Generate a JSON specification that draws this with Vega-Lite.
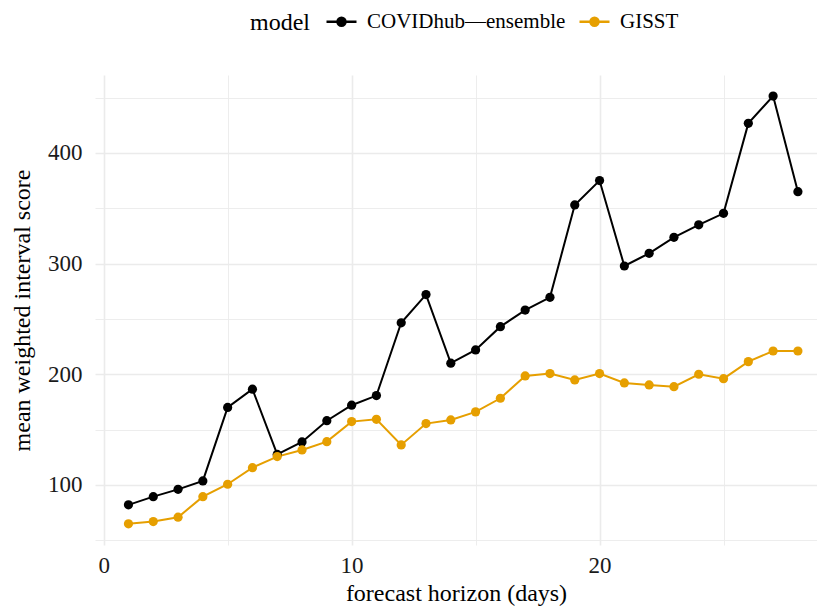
{
  "$schema": "https://vega.github.io/schema/vega-lite/v6.json",
  "autosize": {"type": "none"},
  "width": 722,
  "height": 470,
  "padding": {"left": 95, "top": 75, "right": 0, "bottom": 66},
  "background": "white",
  "config": {
    "view": {"stroke": null},
    "font": "Liberation Serif",
    "axis": {"labelFont": "Liberation Serif", "titleFont": "Liberation Serif", "labelFontSize": 23, "titleFontSize": 24, "labelColor": "#1a1a1a", "titleColor": "#000000", "titleFontWeight": "normal", "domain": false, "ticks": false, "gridColor": "#EBEBEB"},
    "legend": {"labelFont": "Liberation Serif", "titleFont": "Liberation Serif", "labelFontSize": 21, "titleFontSize": 24, "titleFontWeight": "normal", "labelColor": "#000000", "titleColor": "#000000", "labelLimit": 0}
  },
  "data": {"values": [
    {"h": 1, "model": "COVIDhub—ensemble", "score": 82},
    {"h": 2, "model": "COVIDhub—ensemble", "score": 89.4},
    {"h": 3, "model": "COVIDhub—ensemble", "score": 96},
    {"h": 4, "model": "COVIDhub—ensemble", "score": 103.6},
    {"h": 5, "model": "COVIDhub—ensemble", "score": 170},
    {"h": 6, "model": "COVIDhub—ensemble", "score": 186.5},
    {"h": 7, "model": "COVIDhub—ensemble", "score": 127.5},
    {"h": 8, "model": "COVIDhub—ensemble", "score": 138.8},
    {"h": 9, "model": "COVIDhub—ensemble", "score": 158},
    {"h": 10, "model": "COVIDhub—ensemble", "score": 172},
    {"h": 11, "model": "COVIDhub—ensemble", "score": 180.7},
    {"h": 12, "model": "COVIDhub—ensemble", "score": 246.5},
    {"h": 13, "model": "COVIDhub—ensemble", "score": 272},
    {"h": 14, "model": "COVIDhub—ensemble", "score": 210},
    {"h": 15, "model": "COVIDhub—ensemble", "score": 222},
    {"h": 16, "model": "COVIDhub—ensemble", "score": 243},
    {"h": 17, "model": "COVIDhub—ensemble", "score": 258},
    {"h": 18, "model": "COVIDhub—ensemble", "score": 269.5},
    {"h": 19, "model": "COVIDhub—ensemble", "score": 353},
    {"h": 20, "model": "COVIDhub—ensemble", "score": 375},
    {"h": 21, "model": "COVIDhub—ensemble", "score": 297.8},
    {"h": 22, "model": "COVIDhub—ensemble", "score": 309.3},
    {"h": 23, "model": "COVIDhub—ensemble", "score": 323.7},
    {"h": 24, "model": "COVIDhub—ensemble", "score": 335},
    {"h": 25, "model": "COVIDhub—ensemble", "score": 345.4},
    {"h": 26, "model": "COVIDhub—ensemble", "score": 426.7},
    {"h": 27, "model": "COVIDhub—ensemble", "score": 451.4},
    {"h": 28, "model": "COVIDhub—ensemble", "score": 365},
    {"h": 1, "model": "GISST", "score": 64.8},
    {"h": 2, "model": "GISST", "score": 66.9},
    {"h": 3, "model": "GISST", "score": 70.8},
    {"h": 4, "model": "GISST", "score": 89.4},
    {"h": 5, "model": "GISST", "score": 100.6},
    {"h": 6, "model": "GISST", "score": 115.6},
    {"h": 7, "model": "GISST", "score": 125.6},
    {"h": 8, "model": "GISST", "score": 131.6},
    {"h": 9, "model": "GISST", "score": 139.1},
    {"h": 10, "model": "GISST", "score": 157.2},
    {"h": 11, "model": "GISST", "score": 159.3},
    {"h": 12, "model": "GISST", "score": 136.1},
    {"h": 13, "model": "GISST", "score": 155.4},
    {"h": 14, "model": "GISST", "score": 158.7},
    {"h": 15, "model": "GISST", "score": 166},
    {"h": 16, "model": "GISST", "score": 178.3},
    {"h": 17, "model": "GISST", "score": 198.5},
    {"h": 18, "model": "GISST", "score": 200.6},
    {"h": 19, "model": "GISST", "score": 194.9},
    {"h": 20, "model": "GISST", "score": 200.6},
    {"h": 21, "model": "GISST", "score": 192.1},
    {"h": 22, "model": "GISST", "score": 190.3},
    {"h": 23, "model": "GISST", "score": 188.8},
    {"h": 24, "model": "GISST", "score": 200},
    {"h": 25, "model": "GISST", "score": 196},
    {"h": 26, "model": "GISST", "score": 211.4},
    {"h": 27, "model": "GISST", "score": 221},
    {"h": 28, "model": "GISST", "score": 221}
  ]},
  "encoding": {
    "x": {"field": "h", "type": "quantitative", "title": "forecast horizon (days)",
      "scale": {"domain": [-0.35, 28.77], "nice": false, "zero": false},
      "axis": {"values": [0, 5, 10, 15, 20, 25], "labelExpr": "datum.value % 10 === 0 ? datum.label : ''", "labelPadding": 9, "titlePadding": 4,
        "gridWidth": {"condition": {"test": "datum.value % 10 === 0", "value": 1.6}, "value": 0.9}}},
    "y": {"field": "score", "type": "quantitative", "title": "mean weighted interval score",
      "scale": {"domain": [45.7, 470.4], "nice": false, "zero": false},
      "axis": {"values": [50, 100, 150, 200, 250, 300, 350, 400, 450], "labelExpr": "datum.value % 100 === 0 ? datum.label : ''", "labelPadding": 13, "titlePadding": 13,
        "gridWidth": {"condition": {"test": "datum.value % 100 === 0", "value": 1.6}, "value": 0.9}}},
    "color": {"field": "model", "type": "nominal",
      "scale": {"domain": ["COVIDhub—ensemble", "GISST"], "range": ["#000000", "#E69F00"]},
      "legend": {"orient": "none", "direction": "horizontal", "legendX": 155, "legendY": -70, "titleOrient": "left", "titleBaseline": "middle", "titleAnchor": "middle", "titlePadding": 15,
        "symbolType": "M-1,0H1M0.27,0A0.27,0.27,0,1,1,-0.27,0A0.27,0.27,0,1,1,0.27,0Z", "symbolSize": 900, "symbolStrokeWidth": 2.4, "labelOffset": 9, "columnPadding": 8,
        "encode": {
          "title": {"update": {"dy": {"value": 5}}},
          "symbols": {"update": {"fill": {"scale": "color", "field": "value"}, "stroke": {"scale": "color", "field": "value"}}}}}}
  },
  "layer": [
    {"mark": {"type": "line", "strokeWidth": 2}},
    {"mark": {"type": "point", "filled": true, "size": 85, "opacity": 1}}
  ]
}
